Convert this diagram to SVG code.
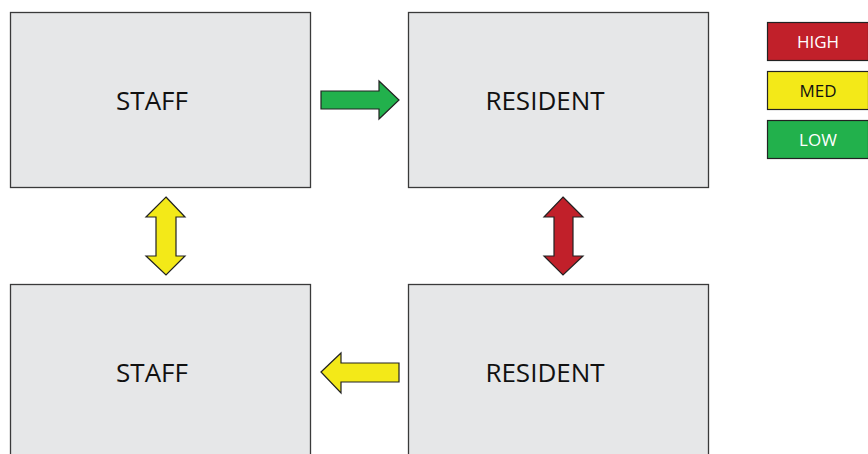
<svg xmlns="http://www.w3.org/2000/svg" width="868" height="454" viewBox="0 0 868 454">
<style>
.box{fill:#e6e7e8;stroke:#3a3a3a;stroke-width:1.3}
.lbl{font-family:"Open Sans","Liberation Sans",sans-serif;font-size:26px;fill:#111;text-anchor:middle}
.leg{stroke:#222;stroke-width:1.2}
.legt{font-family:"Open Sans","Liberation Sans",sans-serif;font-size:17px;text-anchor:middle}
.arr{stroke:#222;stroke-width:1.2;stroke-linejoin:miter}
</style>
<rect width="868" height="454" fill="#ffffff"/>
<g id="staff-top"><rect class="box" x="10.5" y="12.5" width="300" height="175"/><text class="lbl" x="152" y="110">STAFF</text></g>
<g id="resident-top"><rect class="box" x="408.5" y="12.5" width="300" height="175"/><text class="lbl" x="545" y="110">RESIDENT</text></g>
<g id="staff-bottom"><rect class="box" x="10.5" y="284.5" width="300" height="180"/><text class="lbl" x="152" y="382">STAFF</text></g>
<g id="resident-bottom"><rect class="box" x="408.5" y="284.5" width="300" height="180"/><text class="lbl" x="545" y="382">RESIDENT</text></g>
<g id="connectors">
<polygon class="arr" fill="#22b14c" points="321,91 379,91 379,81 399,100 379,119 379,109 321,109"/>
<polygon class="arr" fill="#f3e918" points="166,197 185,217 176,217 176,256 185,256 166,275 146,256 156,256 156,217 146,217"/>
<polygon class="arr" fill="#c1202a" points="563,197 583,217 573,217 573,256 583,256 563,275 544,256 554,256 554,217 544,217"/>
<polygon class="arr" fill="#f3e918" points="321,372 341,353 341,363 399,363 399,382 341,382 341,393"/>
</g>
<g id="legend-high"><rect class="leg" x="767.5" y="22.5" width="101" height="38" fill="#c1202a"/><text class="legt" x="818" y="48" fill="#ffffff">HIGH</text></g>
<g id="legend-med"><rect class="leg" x="767.5" y="71.5" width="101" height="38" fill="#f3e918"/><text class="legt" x="818" y="97" fill="#111">MED</text></g>
<g id="legend-low"><rect class="leg" x="767.5" y="120.5" width="101" height="38" fill="#22b14c"/><text class="legt" x="818" y="146" fill="#ffffff">LOW</text></g>
</svg>
